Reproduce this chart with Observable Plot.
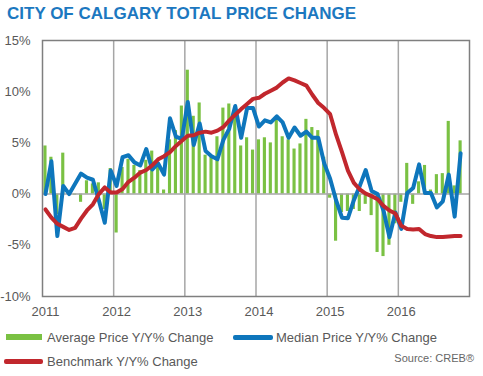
<!DOCTYPE html>
<html><head><meta charset="utf-8">
<script src="https://cdn.jsdelivr.net/npm/d3@7"></script>
<script src="https://cdn.jsdelivr.net/npm/@observablehq/plot@0.6"></script>
<style>
body{margin:0;background:#fff;font-family:"Liberation Sans",Arial,sans-serif;}
#wrap{position:relative;width:483px;height:376px;overflow:hidden;background:#fff;}
#title{position:absolute;left:7px;top:5px;font-size:17px;line-height:17px;font-weight:bold;color:#1c78c0;white-space:nowrap;}
#chart{position:absolute;left:0;top:0;}
.lg{position:absolute;font-size:13px;line-height:13px;color:#595959;white-space:nowrap;}
.sw{position:absolute;}
#src{position:absolute;right:9px;top:353px;font-size:11px;line-height:11px;color:#666;white-space:nowrap;}
</style></head><body>
<div id="wrap">
  <div id="chart"></div>
  <div id="title">CITY OF CALGARY TOTAL PRICE CHANGE</div>
  <div class="sw" style="left:6px;top:334px;width:36px;height:6px;background:#7ac143"></div>
  <div class="lg" style="left:47px;top:331px">Average Price Y/Y% Change</div>
  <div class="sw" style="left:233px;top:335px;width:40px;height:4.5px;border-radius:2px;background:#0e76bc"></div>
  <div class="lg" style="left:276px;top:331px">Median Price Y/Y% Change</div>
  <div class="sw" style="left:4px;top:359px;width:39px;height:4.5px;border-radius:2px;background:#c1272d"></div>
  <div class="lg" style="left:47px;top:355px">Benchmark Y/Y% Change</div>
  <div id="src">Source: CREB®</div>
</div>
<script>
// Monthly Y/Y % change, Jan 2011 .. Nov 2016 (72 monthly slots on the axis, last one empty)
const years = [2011, 2012, 2013, 2014, 2015, 2016];
const yTicks = [-10, -5, 0, 5, 10, 15];
const avgChange = [4.7,3.6,-2.0,4.0,0.2,-0.1,-0.8,1.3,1.0,1.1,-1.5,2.5,
  -3.8,2.6,3.4,2.8,2.3,3.3,4.2,3.0,0.4,5.3,6.2,8.6,
  12.1,7.6,8.9,3.8,3.7,5.6,8.4,8.8,8.4,4.7,5.5,4.3,
  5.3,5.5,5.0,7.2,5.6,5.3,4.4,4.9,7.3,6.5,6.2,3.6,
  -0.4,-4.6,-1.8,-1.7,-1.5,-1.7,-1.0,-2.1,-5.7,-6.1,-5.0,-2.9,
  -0.8,3.0,-1.0,1.2,2.8,0.4,1.9,2.0,7.1,0.8,5.2];
const medianChange = [0.0,3.2,-4.1,0.8,0.0,1.0,2.0,1.6,1.4,-0.6,-2.8,2.3,
  0.8,3.6,3.8,3.1,2.8,4.4,2.4,3.0,1.9,7.4,5.6,5.4,
  9.0,4.8,6.9,4.2,3.7,3.4,5.3,6.4,8.6,5.5,8.4,8.4,
  6.6,7.2,7.0,7.6,7.0,5.5,6.5,5.7,6.1,5.5,5.5,3.0,
  1.5,-0.6,-2.3,-2.35,-0.6,0.8,2.35,0.3,0.0,-1.6,-4.2,-1.8,
  -3.4,0.1,0.6,2.9,0.1,0.1,-1.3,-0.7,1.9,-2.2,4.0];
const benchmarkChange = [-1.5,-2.3,-2.9,-3.2,-3.5,-3.3,-2.4,-1.6,-1.0,0.0,0.65,0.15,
  0.15,0.5,1.2,1.6,2.1,2.35,2.8,3.4,3.7,4.1,4.7,5.2,
  5.7,5.75,6.0,6.1,6.0,6.2,6.55,7.2,7.75,8.3,8.8,9.3,
  9.4,9.8,10.1,10.4,10.9,11.3,11.1,10.85,10.6,9.7,8.9,8.4,
  7.8,5.8,4.1,2.3,1.1,0.45,0.05,-0.2,-0.5,-1.15,-1.6,-1.9,
  -3.1,-3.4,-3.45,-3.4,-3.9,-4.1,-4.2,-4.2,-4.15,-4.1,-4.1];

const rows = avgChange.map((v, i) => ({i, avg: v, median: medianChange[i], bench: benchmarkChange[i]}));
const yearPos = years.map((y, k) => k * 12);          // January of each year
const yearBounds = years.slice(1).map((y, k) => (k + 1) * 12 - 0.5);

const GREEN = "#7ac143", BLUE = "#0e76bc", RED = "#c1272d", GRID = "#a6a6a6";

const chart = Plot.plot({
  width: 483,
  height: 325,
  marginTop: 40,
  marginBottom: 29,
  marginLeft: 42,
  marginRight: 14,
  style: {fontFamily: "Liberation Sans, Arial, sans-serif", fontSize: "13px", color: "#595959", background: "transparent"},
  x: {type: "linear", domain: [-0.5, 71.5], ticks: yearPos, tickFormat: d => String(years[Math.round(d / 12)]), tickSize: 0, tickPadding: 10, label: null},
  y: {domain: [-10, 15], ticks: yTicks, tickFormat: d => d + "%", tickSize: 0, tickPadding: 12, label: null},
  marks: [
    Plot.ruleX(yearBounds, {stroke: GRID, strokeWidth: 1.5}),
    Plot.rectY(rows, {x1: d => d.i - 0.5, x2: d => d.i + 0.5, y: "avg", fill: GREEN, insetLeft: 1.4, insetRight: 1.4}),
    Plot.ruleY([0], {stroke: GRID, strokeWidth: 1.5}),
    Plot.lineY(rows, {x: "i", y: "median", stroke: BLUE, strokeWidth: 4, strokeLinejoin: "round", strokeLinecap: "round"}),
    Plot.lineY(rows, {x: "i", y: "bench", stroke: RED, strokeWidth: 4, strokeLinejoin: "round", strokeLinecap: "round"}),
    Plot.frame({stroke: "#7f7f7f", strokeWidth: 1.5})
  ]
});
document.getElementById("chart").appendChild(chart);
</script>
</body></html>
